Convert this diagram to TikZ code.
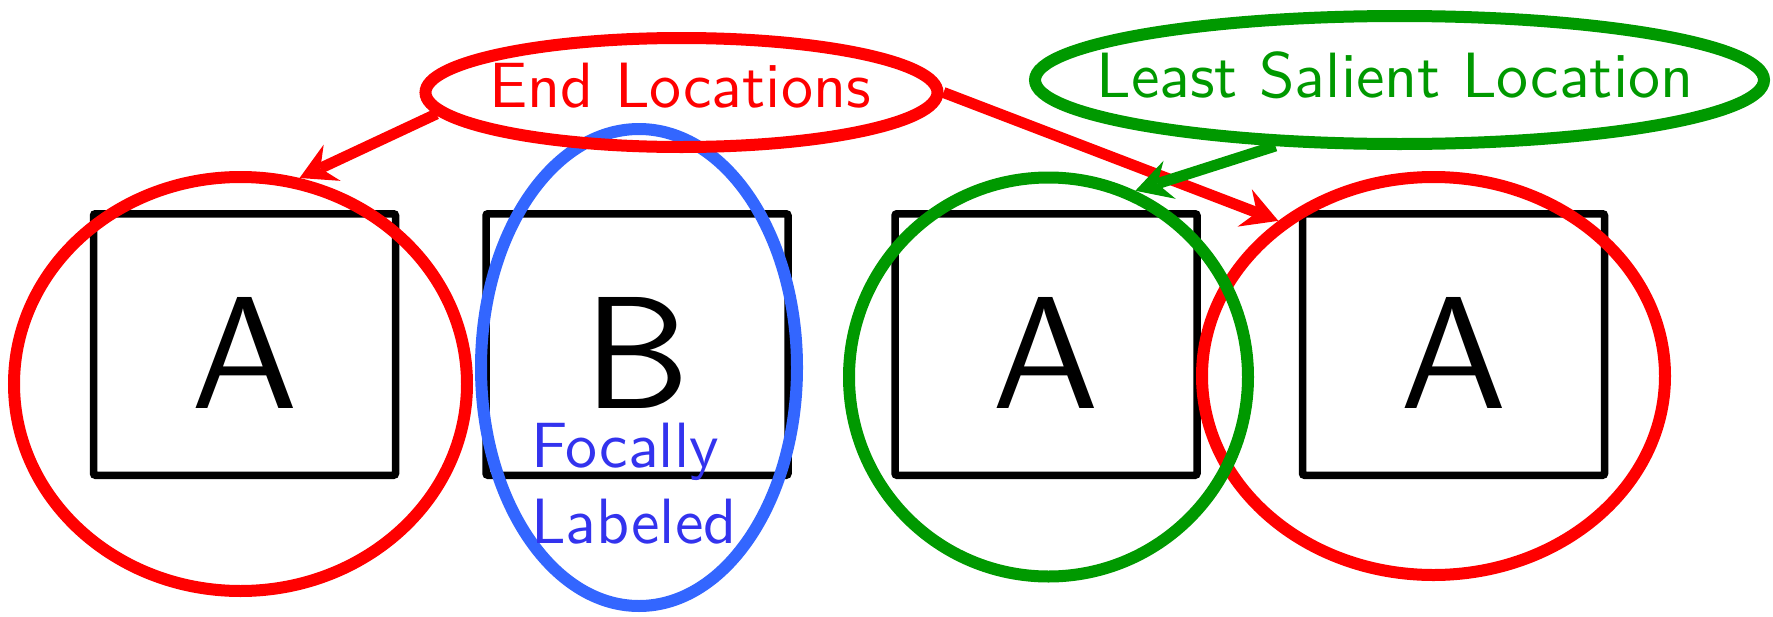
\documentclass[tikz,border=0pt]{standalone}
\usepackage{fontspec}
\setsansfont{lmsans10-regular.otf}
\usetikzlibrary{shapes.geometric,arrows.meta}
\definecolor{myred}{RGB}{255,0,0}
\definecolor{mygreen}{RGB}{0,153,0}
\definecolor{myblue}{RGB}{51,102,255}
\definecolor{mytextblue}{RGB}{51,51,238}
\begin{document}
\begin{tikzpicture}[x=1pt,y=-1pt,
  letterbox/.style={draw=black, line width=7.5pt, rounded corners=2pt,
    minimum width=302pt, minimum height=261.5pt, inner sep=0pt,
    font=\sffamily\fontsize{160}{160}\selectfont, text height=127pt, text depth=0pt},
  ring/.style={ellipse, draw, line width=12pt, inner sep=0pt},
  lbl/.style={font=\sffamily\fontsize{64}{76}\selectfont, inner sep=0pt, anchor=base},
  pointer/.style={line width=11pt,
    -{Stealth[length=36pt,width=40pt,inset=13pt,line width=0pt]}},
]
\useasboundingbox (0,0) rectangle (1773,616);
% boxes
\node[letterbox] (b1) at (244.5,344.5) {A};
\node[letterbox] (b2) at (637,344.5) {B};
\node[letterbox] (b3) at (1046,344.5) {A};
\node[letterbox] (b4) at (1453.5,344.5) {A};
% rings
\node[ring, draw=myred, minimum width=453pt, minimum height=414pt] (e1) at (240.5,384) {};
\node[ring, draw=myblue, minimum width=316pt, minimum height=477pt] (focal) at (639,367.5) {};
\node[ring, draw=myred, minimum width=463pt, minimum height=398pt] (e4) at (1433.5,376) {};
\node[ring, draw=mygreen, minimum width=399pt, minimum height=399pt] (e3) at (1048.5,377) {};
\node[ring, draw=myred, minimum width=512pt, minimum height=109pt] (endloc) at (681.5,92.5) {};
\node[ring, draw=mygreen, minimum width=729pt, minimum height=128pt] (least) at (1399.5,80) {};
% labels
\node[lbl, text=myred] (endtxt) at (680,107) {End Locations};
\node[lbl, text=mygreen] (leasttxt) at (1395,97) {Least Salient Location};
\node[lbl, text=mytextblue, anchor=base west] (foc1) at (531,467) {Focally};
\node[lbl, text=mytextblue, anchor=base west] (foc2) at (531,543) {Labeled};
% arrows
\draw[pointer, myred] (endloc.185) -- (e1.74.5);
\draw[pointer, myred] (endloc.east) -- (e4.135);
\draw[pointer, mygreen] (least.208) -- (e3.65);
\end{tikzpicture}
\end{document}
